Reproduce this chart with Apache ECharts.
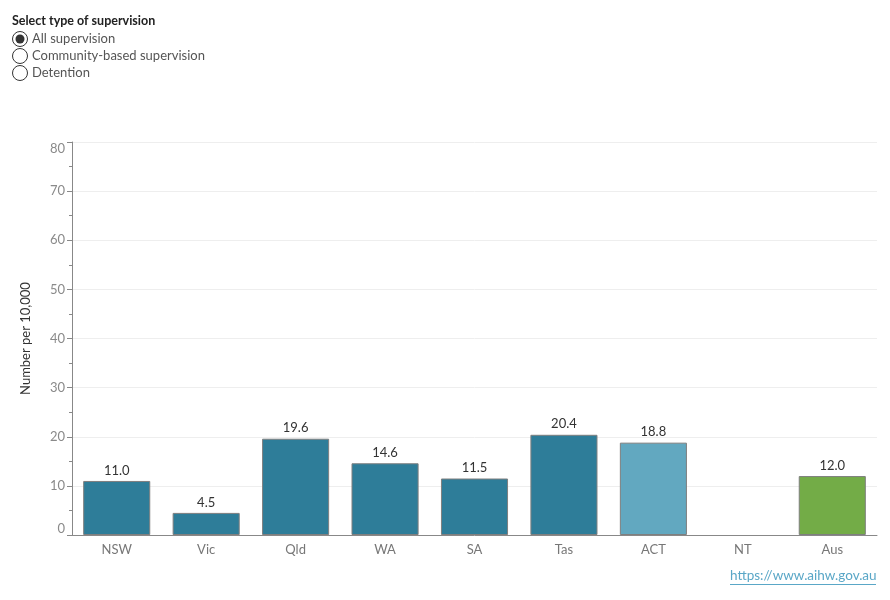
<!DOCTYPE html>
<html>
<head>
<meta charset="utf-8">
<title>Supervision rates</title>
<script src="https://cdn.jsdelivr.net/npm/echarts@6/dist/echarts.min.js"></script>
<style>
  html, body { margin: 0; padding: 0; background: #fff; }
  #chart { width: 890px; height: 600px; }
</style>
</head>
<body>
<div id="chart"></div>
<script type="text/javascript">
    // data
    var states = ['NSW', 'Vic', 'Qld', 'WA', 'SA', 'Tas', 'ACT', 'NT', 'Aus'];
    var rates = [11.0, 4.5, 19.6, 14.6, 11.5, 20.4, 18.8, null, 12.0];
    var barColours = ['#2e7d99', '#2e7d99', '#2e7d99', '#2e7d99', '#2e7d99', '#2e7d99', '#62a8c0', '#2e7d99', '#73ac47'];
    var options = ['All supervision', 'Community-based supervision', 'Detention'];

    var font = 'Lato, "Open Sans", sans-serif';
    var dom = document.getElementById('chart');
    var myChart = echarts.init(dom);

    // radio buttons drawn as graphics
    var graphics = [{
        type: 'text', left: 12, top: 14,
        style: { text: 'Select type of supervision', font: 'bold 12.5px ' + font, fill: '#222' }
    }];
    options.forEach(function (name, i) {
        var cy = 39 + i * 17;
        graphics.push({
            type: 'circle', shape: { cx: 20, cy: cy, r: 7.5 },
            style: { fill: '#fff', stroke: '#333', lineWidth: 1 }
        });
        if (i === 0) {
            graphics.push({
                type: 'circle', shape: { cx: 20, cy: cy, r: 4.5 },
                style: { fill: '#333' }
            });
        }
        graphics.push({
            type: 'text', left: 32, top: cy - 7,
            style: { text: name, font: '13px ' + font, fill: '#555' }
        });
    });
    graphics.push({
        type: 'text', left: 730, top: 569,
        style: { text: 'https://www.aihw.gov.au', font: '13.5px ' + font, fill: '#5aa7c7' }
    });
    graphics.push({
        type: 'rect', shape: { x: 730, y: 584, width: 146, height: 1 },
        style: { fill: '#5aa7c7' }
    });

    var option = {
        animation: false,
        textStyle: { fontFamily: font },
        graphic: graphics,
        grid: { left: 72, right: 13, top: 142, bottom: 65 },
        xAxis: {
            type: 'category',
            data: states,
            axisLine: { lineStyle: { color: '#888' } },
            axisTick: { show: false },
            axisLabel: { color: '#777', fontSize: 13, margin: 8 }
        },
        yAxis: {
            type: 'value',
            min: 0, max: 80, interval: 10,
            name: 'Number per 10,000',
            nameLocation: 'middle',
            nameGap: 40,
            nameTextStyle: { color: '#333', fontSize: 13 },
            axisLine: { show: true, lineStyle: { color: '#888' } },
            axisTick: { show: true, length: 5, lineStyle: { color: '#888' } },
            minorTick: { show: true, splitNumber: 2, length: 3, lineStyle: { color: '#888' } },
            axisLabel: {
                color: '#8a8a8a', fontSize: 13, margin: 7,
                verticalAlignMinLabel: 'bottom', verticalAlignMaxLabel: 'top'
            },
            splitLine: { lineStyle: { color: '#eeeeee' } }
        },
        series: [{
            type: 'bar',
            data: rates.map(function (v, i) {
                return { value: v, itemStyle: { color: barColours[i] } };
            }),
            barCategoryGap: '25%',
            itemStyle: { borderColor: '#7f7f7f', borderWidth: 1 },
            label: {
                show: true, position: 'top', color: '#333', fontSize: 13, distance: 4,
                formatter: function (p) { return p.value == null ? '' : p.value.toFixed(1); }
            }
        }]
    };

    myChart.setOption(option, true);
</script>
</body>
</html>
